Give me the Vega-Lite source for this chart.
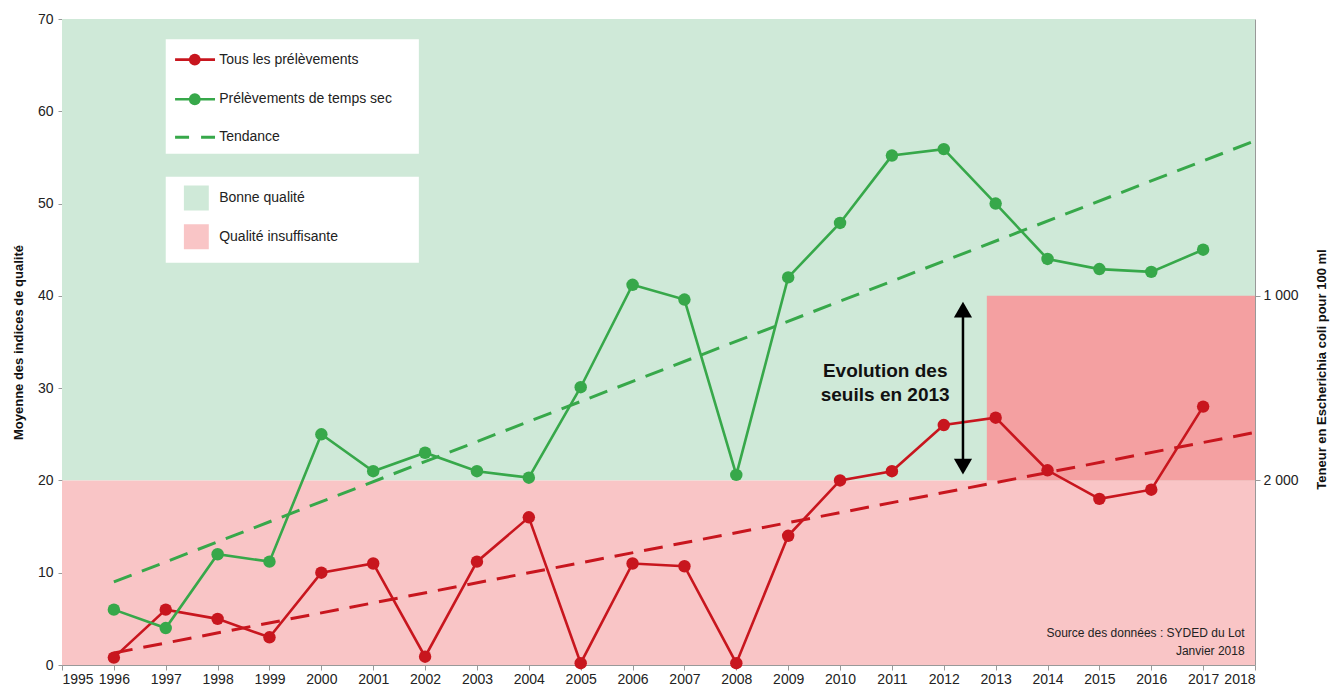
{
  "$schema": "https://vega.github.io/schema/vega-lite/v6.json",
  "width": 1193,
  "height": 646,
  "autosize": {"type": "none"},
  "padding": {"left": 62, "top": 19, "right": 76, "bottom": 24},
  "background": "white",
  "config": {
    "view": {"stroke": null},
    "font": "Liberation Sans",
    "axis": {"labelFont": "Liberation Sans", "titleFont": "Liberation Sans", "labelColor": "#222", "titleColor": "#111", "domainColor": "#999", "tickColor": "#999", "grid": false, "labelFontSize": 14}
  },
  "datasets": {
    "zones": [
      {"zone": "Bonne qualité", "x1": 1995, "x2": 2018, "y1": 20, "y2": 70, "col": "#cfe9d8"},
      {"zone": "Qualité insuffisante", "x1": 1995, "x2": 2018, "y1": 0, "y2": 20, "col": "#f9c5c6"},
      {"zone": "Nouveau seuil", "x1": 2012.83, "x2": 2018, "y1": 20, "y2": 40, "col": "#f4a0a1"},
      {"zone": "Légende 1", "x1": 1997.0, "x2": 2001.88, "y1": 55.4, "y2": 67.8, "col": "#ffffff"},
      {"zone": "Légende 2", "x1": 1997.0, "x2": 2001.88, "y1": 43.6, "y2": 52.9, "col": "#ffffff"},
      {"zone": "Carré vert", "x1": 1997.35, "x2": 1997.83, "y1": 49.25, "y2": 51.95, "col": "#cfe9d8"},
      {"zone": "Carré rose", "x1": 1997.35, "x2": 1997.83, "y1": 45.05, "y2": 47.75, "col": "#f9c5c6"}
    ],
    "series": [
      {"year": 1996, "serie": "Tous les prélèvements", "value": 0.8},
      {"year": 1997, "serie": "Tous les prélèvements", "value": 6.0},
      {"year": 1998, "serie": "Tous les prélèvements", "value": 5.0},
      {"year": 1999, "serie": "Tous les prélèvements", "value": 3.0},
      {"year": 2000, "serie": "Tous les prélèvements", "value": 10.0},
      {"year": 2001, "serie": "Tous les prélèvements", "value": 11.0},
      {"year": 2002, "serie": "Tous les prélèvements", "value": 0.9},
      {"year": 2003, "serie": "Tous les prélèvements", "value": 11.2},
      {"year": 2004, "serie": "Tous les prélèvements", "value": 16.0},
      {"year": 2005, "serie": "Tous les prélèvements", "value": 0.2},
      {"year": 2006, "serie": "Tous les prélèvements", "value": 11.0},
      {"year": 2007, "serie": "Tous les prélèvements", "value": 10.7},
      {"year": 2008, "serie": "Tous les prélèvements", "value": 0.2},
      {"year": 2009, "serie": "Tous les prélèvements", "value": 14.0},
      {"year": 2010, "serie": "Tous les prélèvements", "value": 20.0},
      {"year": 2011, "serie": "Tous les prélèvements", "value": 21.0},
      {"year": 2012, "serie": "Tous les prélèvements", "value": 26.0},
      {"year": 2013, "serie": "Tous les prélèvements", "value": 26.8},
      {"year": 2014, "serie": "Tous les prélèvements", "value": 21.1},
      {"year": 2015, "serie": "Tous les prélèvements", "value": 18.0},
      {"year": 2016, "serie": "Tous les prélèvements", "value": 19.0},
      {"year": 2017, "serie": "Tous les prélèvements", "value": 28.0},
      {"year": 1996, "serie": "Prélèvements de temps sec", "value": 6.0},
      {"year": 1997, "serie": "Prélèvements de temps sec", "value": 4.0},
      {"year": 1998, "serie": "Prélèvements de temps sec", "value": 12.0},
      {"year": 1999, "serie": "Prélèvements de temps sec", "value": 11.2},
      {"year": 2000, "serie": "Prélèvements de temps sec", "value": 25.0},
      {"year": 2001, "serie": "Prélèvements de temps sec", "value": 21.0},
      {"year": 2002, "serie": "Prélèvements de temps sec", "value": 23.0},
      {"year": 2003, "serie": "Prélèvements de temps sec", "value": 21.0},
      {"year": 2004, "serie": "Prélèvements de temps sec", "value": 20.3},
      {"year": 2005, "serie": "Prélèvements de temps sec", "value": 30.1},
      {"year": 2006, "serie": "Prélèvements de temps sec", "value": 41.2},
      {"year": 2007, "serie": "Prélèvements de temps sec", "value": 39.6},
      {"year": 2008, "serie": "Prélèvements de temps sec", "value": 20.6},
      {"year": 2009, "serie": "Prélèvements de temps sec", "value": 42.0},
      {"year": 2010, "serie": "Prélèvements de temps sec", "value": 47.9},
      {"year": 2011, "serie": "Prélèvements de temps sec", "value": 55.2},
      {"year": 2012, "serie": "Prélèvements de temps sec", "value": 55.9},
      {"year": 2013, "serie": "Prélèvements de temps sec", "value": 50.0},
      {"year": 2014, "serie": "Prélèvements de temps sec", "value": 44.0},
      {"year": 2015, "serie": "Prélèvements de temps sec", "value": 42.9},
      {"year": 2016, "serie": "Prélèvements de temps sec", "value": 42.6},
      {"year": 2017, "serie": "Prélèvements de temps sec", "value": 45.0}
    ],
    "trends": [
      {"year": 1996, "serie": "Tendance tous", "value": 1.3},
      {"year": 2018, "serie": "Tendance tous", "value": 25.2},
      {"year": 1996, "serie": "Tendance temps sec", "value": 9.0},
      {"year": 2018, "serie": "Tendance temps sec", "value": 56.8}
    ],
    "legendLines": [
      {"x": 1997.18, "y": 65.6, "serie": "Tous les prélèvements"},
      {"x": 1997.95, "y": 65.6, "serie": "Tous les prélèvements"},
      {"x": 1997.18, "y": 61.3, "serie": "Prélèvements de temps sec"},
      {"x": 1997.95, "y": 61.3, "serie": "Prélèvements de temps sec"}
    ],
    "legendDash": [
      {"x": 1997.18, "y": 57.2, "serie": "Tendance temps sec"},
      {"x": 1997.95, "y": 57.2, "serie": "Tendance temps sec"}
    ],
    "legendPoints": [
      {"x": 1997.56, "y": 65.6, "serie": "Tous les prélèvements"},
      {"x": 1997.56, "y": 61.3, "serie": "Prélèvements de temps sec"}
    ],
    "legendText": [
      {"x": 1998.03, "y": 65.6, "label": "Tous les prélèvements"},
      {"x": 1998.03, "y": 61.3, "label": "Prélèvements de temps sec"},
      {"x": 1998.03, "y": 57.2, "label": "Tendance"},
      {"x": 1998.03, "y": 50.6, "label": "Bonne qualité"},
      {"x": 1998.03, "y": 46.4, "label": "Qualité insuffisante"}
    ],
    "arrow": [
      {"x": 2012.37, "y1": 21.5, "y2": 38.5}
    ],
    "arrowHeads": [
      {"x": 2012.37, "y": 38.5, "shape": "triangle-up"},
      {"x": 2012.37, "y": 21.5, "shape": "triangle-down"}
    ],
    "note": [
      {"x": 2010.87, "y": 31.9, "label": "Evolution des"},
      {"x": 2010.87, "y": 29.3, "label": "seuils en 2013"}
    ],
    "source": [
      {"x": 2017.8, "y": 3.5, "label": "Source des données : SYDED du Lot"},
      {"x": 2017.8, "y": 1.5, "label": "Janvier 2018"}
    ],
    "rightTicks": [{"v": 20}, {"v": 40}]
  },
  "layer": [
    {
      "layer": [
        {
          "data": {"name": "zones"},
          "mark": {"type": "rect"},
          "encoding": {
            "x": {"field": "x1", "type": "quantitative", "scale": {"domain": [1995, 2018], "nice": false, "zero": false},
                  "axis": {"title": null, "values": [1995,1996,1997,1998,1999,2000,2001,2002,2003,2004,2005,2006,2007,2008,2009,2010,2011,2012,2013,2014,2015,2016,2017,2018], "format": "d", "tickSize": 5, "labelPadding": 2}},
            "x2": {"field": "x2"},
            "y": {"field": "y1", "type": "quantitative", "scale": {"domain": [0, 70], "nice": false},
                  "axis": {"title": "Moyenne des indices de qualité", "values": [0,10,20,30,40,50,60,70], "tickSize": 4, "labelPadding": 5, "titleFontSize": 13, "titleFontWeight": "bold", "titlePadding": 12}},
            "y2": {"field": "y2"},
            "color": {"field": "col", "type": "nominal", "scale": null, "legend": null}
          }
        },
        {
          "data": {"name": "trends"},
          "mark": {"type": "line", "strokeWidth": 3, "strokeDash": [19, 11]},
          "encoding": {
            "x": {"field": "year", "type": "quantitative"},
            "y": {"field": "value", "type": "quantitative"},
            "detail": {"field": "serie"},
            "color": {"field": "serie", "type": "nominal", "scale": {"domain": ["Tendance tous", "Tendance temps sec"], "range": ["#c8161e", "#37a84a"]}, "legend": null}
          }
        },
        {
          "data": {"name": "series"},
          "mark": {"type": "line", "strokeWidth": 2.6, "point": {"filled": true, "size": 155, "opacity": 1}},
          "encoding": {
            "x": {"field": "year", "type": "quantitative"},
            "y": {"field": "value", "type": "quantitative"},
            "color": {"field": "serie", "type": "nominal", "scale": {"domain": ["Tous les prélèvements", "Prélèvements de temps sec"], "range": ["#c8161e", "#37a84a"]}, "legend": null}
          }
        },
        {
          "data": {"name": "legendLines"},
          "mark": {"type": "line", "strokeWidth": 2.6},
          "encoding": {
            "x": {"field": "x", "type": "quantitative"},
            "y": {"field": "y", "type": "quantitative"},
            "detail": {"field": "serie"},
            "color": {"field": "serie", "type": "nominal", "scale": {"domain": ["Tous les prélèvements", "Prélèvements de temps sec"], "range": ["#c8161e", "#37a84a"]}, "legend": null}
          }
        },
        {
          "data": {"name": "legendDash"},
          "mark": {"type": "line", "strokeWidth": 3, "strokeDash": [14, 12], "color": "#37a84a"},
          "encoding": {
            "x": {"field": "x", "type": "quantitative"},
            "y": {"field": "y", "type": "quantitative"}
          }
        },
        {
          "data": {"name": "legendPoints"},
          "mark": {"type": "point", "filled": true, "size": 140, "opacity": 1},
          "encoding": {
            "x": {"field": "x", "type": "quantitative"},
            "y": {"field": "y", "type": "quantitative"},
            "color": {"field": "serie", "type": "nominal", "scale": {"domain": ["Tous les prélèvements", "Prélèvements de temps sec"], "range": ["#c8161e", "#37a84a"]}, "legend": null}
          }
        },
        {
          "data": {"name": "legendText"},
          "mark": {"type": "text", "align": "left", "baseline": "middle", "fontSize": 14, "color": "#222", "font": "Liberation Sans"},
          "encoding": {
            "x": {"field": "x", "type": "quantitative"},
            "y": {"field": "y", "type": "quantitative"},
            "text": {"field": "label"}
          }
        },
        {
          "data": {"name": "arrow"},
          "mark": {"type": "rule", "strokeWidth": 2.5, "color": "#000"},
          "encoding": {
            "x": {"field": "x", "type": "quantitative"},
            "y": {"field": "y1", "type": "quantitative"},
            "y2": {"field": "y2"}
          }
        },
        {
          "data": {"name": "arrowHeads"},
          "mark": {"type": "point", "filled": true, "size": 330, "opacity": 1, "color": "#000"},
          "encoding": {
            "x": {"field": "x", "type": "quantitative"},
            "y": {"field": "y", "type": "quantitative"},
            "shape": {"field": "shape", "type": "nominal", "scale": null, "legend": null}
          }
        },
        {
          "data": {"name": "note"},
          "mark": {"type": "text", "align": "center", "baseline": "middle", "fontSize": 19, "fontWeight": "bold", "color": "#111", "font": "Liberation Sans"},
          "encoding": {
            "x": {"field": "x", "type": "quantitative"},
            "y": {"field": "y", "type": "quantitative"},
            "text": {"field": "label"}
          }
        },
        {
          "data": {"name": "source"},
          "mark": {"type": "text", "align": "right", "baseline": "middle", "fontSize": 12, "color": "#222", "font": "Liberation Sans"},
          "encoding": {
            "x": {"field": "x", "type": "quantitative"},
            "y": {"field": "y", "type": "quantitative"},
            "text": {"field": "label"}
          }
        }
      ]
    },
    {
      "data": {"name": "rightTicks"},
      "mark": {"type": "tick", "opacity": 0},
      "encoding": {
        "y": {"field": "v", "type": "quantitative", "scale": {"domain": [0, 70], "nice": false},
              "axis": {"orient": "right", "title": "Teneur en Escherichia coli pour 100 ml", "values": [20, 40], "labelExpr": "datum.value == 40 ? '1 000' : '2 000'", "tickSize": 5, "labelPadding": 3, "titleFontSize": 13, "titleFontWeight": "bold", "titleAngle": 270, "titlePadding": 30, "titleY": 350}}
      }
    }
  ],
  "resolve": {"scale": {"y": "independent"}}
}
